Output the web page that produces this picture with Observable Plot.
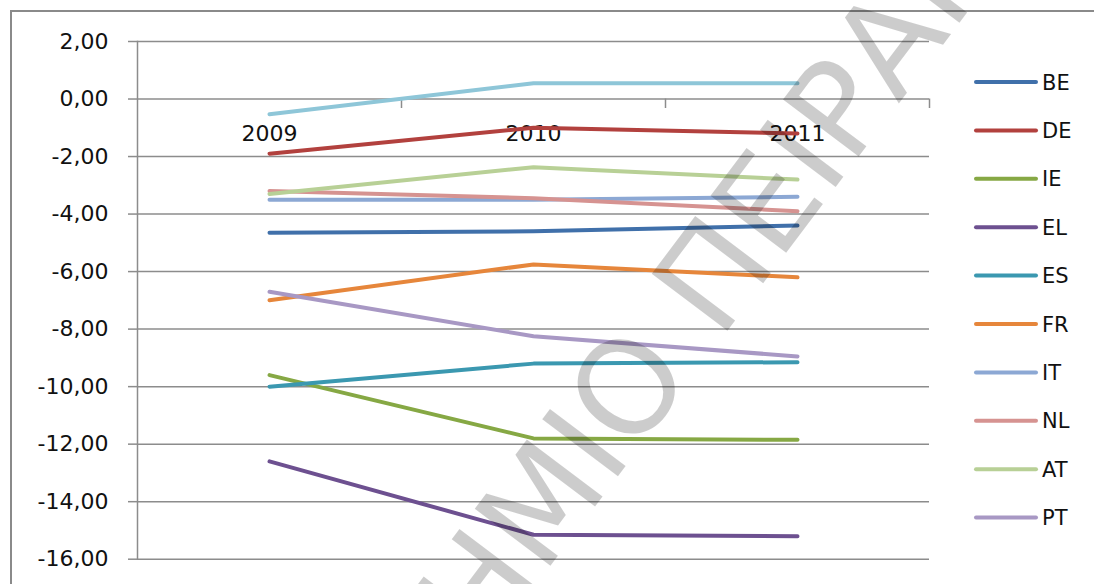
<!DOCTYPE html>
<html>
<head>
<meta charset="utf-8">
<script src="https://cdn.jsdelivr.net/npm/d3@7"></script>
<script src="https://cdn.jsdelivr.net/npm/@observablehq/plot@0.6"></script>
<style>
  html, body { margin: 0; padding: 0; background: #fff; }
  #chart { width: 1094px; height: 584px; overflow: hidden; }
</style>
</head>
<body>
<div id="chart"></div>
<script>
// Years on the category axis
const years = ["2009", "2010", "2011"];

// Balance per country, one value per year
const BE = [-4.65, -4.6, -4.4];
const DE = [-1.9, -1.0, -1.2];
const IE = [-9.6, -11.8, -11.85];
const EL = [-12.6, -15.15, -15.2];
const ES = [-10.0, -9.2, -9.15];
const FR = [-7.0, -5.75, -6.2];
const IT = [-3.5, -3.5, -3.4];
const NL = [-3.2, -3.45, -3.9];
const AT = [-3.3, -2.37, -2.8];
const PT = [-6.7, -8.25, -8.95];
const FI = [-0.53, 0.55, 0.55];

// Series order and colours (later series are drawn on top)
const countries = ["BE", "DE", "IE", "EL", "ES", "FR", "IT", "NL", "AT", "PT", "FI"];
const seriesValues = [BE, DE, IE, EL, ES, FR, IT, NL, AT, PT, FI];
const seriesColors = ["#4070AA", "#B2413E", "#86A844", "#6D5090", "#3B98B0",
                      "#E6863B", "#8CA8D4", "#D69391", "#B8D096", "#A898C4", "#8EC6D8"];
// Only the first ten series fit in the legend box
const legendCountries = countries.slice(0, 10);

// Value-axis ticks
const yTicks = [2, 0, -2, -4, -6, -8, -10, -12, -14, -16];

const rows = countries.flatMap((c, i) =>
  years.map((y, j) => ({country: c, year: y, value: seriesValues[i][j]})));

const W = 1094, H = 584;
const mL = 137, mR = 165, mT = 41, mB = 25.3;
const step = (W - mL - mR) / years.length;
const pxPerUnit = (H - mT - mB) / (yTicks[0] - yTicks[yTicks.length - 1]);
const fmt = d => d.toFixed(2).replace(".", ",");
const gridColor = "#8c8c8c";

const chart = Plot.plot({
  width: W,
  height: H,
  marginLeft: mL,
  marginRight: mR,
  marginTop: mT,
  marginBottom: mB,
  style: {fontFamily: "'DejaVu Sans', sans-serif", fontSize: "22px", color: "#000", background: "#fff"},
  x: {type: "point", domain: years, padding: 0.5, axis: null},
  y: {domain: [yTicks[yTicks.length - 1], yTicks[0]], axis: null},
  color: {domain: countries, range: seriesColors},
  marks: [
    // horizontal gridlines (the 0 line doubles as the category axis)
    Plot.ruleY(yTicks, {stroke: gridColor, strokeWidth: 1.5}),
    // value axis line
    Plot.frame({anchor: "left", stroke: gridColor, strokeWidth: 1.5}),
    // value-axis ticks and labels
    Plot.axisY(yTicks, {
      anchor: "left", label: null, tickSize: 9, tickPadding: 20, tickFormat: fmt,
      stroke: gridColor, fill: "#111", fontSize: 22, strokeWidth: 1.5
    }),
    // category tick marks between the years, hanging below the 0 line
    Plot.ruleX(years, {x: d => d, dx: step / 2, y1: 0, y2: -9.5 / pxPerUnit, stroke: gridColor, strokeWidth: 1.5}),
    // year labels under the 0 line
    Plot.text(years, {x: d => d, y: () => 0, dy: 35, text: d => d, fill: "#111", fontSize: 22}),
    // one line per country
    Plot.line(rows, {
      x: "year", y: "value", z: "country", stroke: "country",
      strokeWidth: 4, strokeLinecap: "round", strokeLinejoin: "round", curve: "linear"
    })
  ]
});

const svg = d3.select(chart);

// outer chart border
svg.append("rect")
  .attr("x", 11).attr("y", 11)
  .attr("width", W + 20).attr("height", H + 20)
  .attr("fill", "none").attr("stroke", "#8a8a8a").attr("stroke-width", 2);

// legend
const legend = svg.append("g")
  .attr("font-family", "'DejaVu Sans', sans-serif")
  .attr("font-size", 21)
  .attr("text-anchor", "start");
const legendTop = 82, legendStep = 48.4;
legendCountries.forEach((c, i) => {
  const yy = legendTop + i * legendStep;
  legend.append("line")
    .attr("x1", 976).attr("x2", 1036)
    .attr("y1", yy).attr("y2", yy)
    .attr("stroke", seriesColors[countries.indexOf(c)])
    .attr("stroke-width", 4).attr("stroke-linecap", "round");
  legend.append("text")
    .attr("x", 1042).attr("y", yy)
    .attr("dy", "0.36em")
    .attr("text-anchor", "start")
    .attr("fill", "#111")
    .text(c);
});

// diagonal watermark over the plot
svg.append("g")
  .attr("transform", "translate(664,415) rotate(-53)")
  .append("text")
  .attr("x", -963).attr("y", 0)
  .attr("text-anchor", "start")
  .attr("font-family", "'DejaVu Sans', sans-serif")
  .attr("font-size", 130)
  .attr("fill", "#000").attr("fill-opacity", 0.2)
  .text("ΠΑΝΕΠΙΣΤΗΜΙΟ ΠΕΙΡΑΙΩΣ");

document.getElementById("chart").appendChild(chart);
</script>
</body>
</html>
